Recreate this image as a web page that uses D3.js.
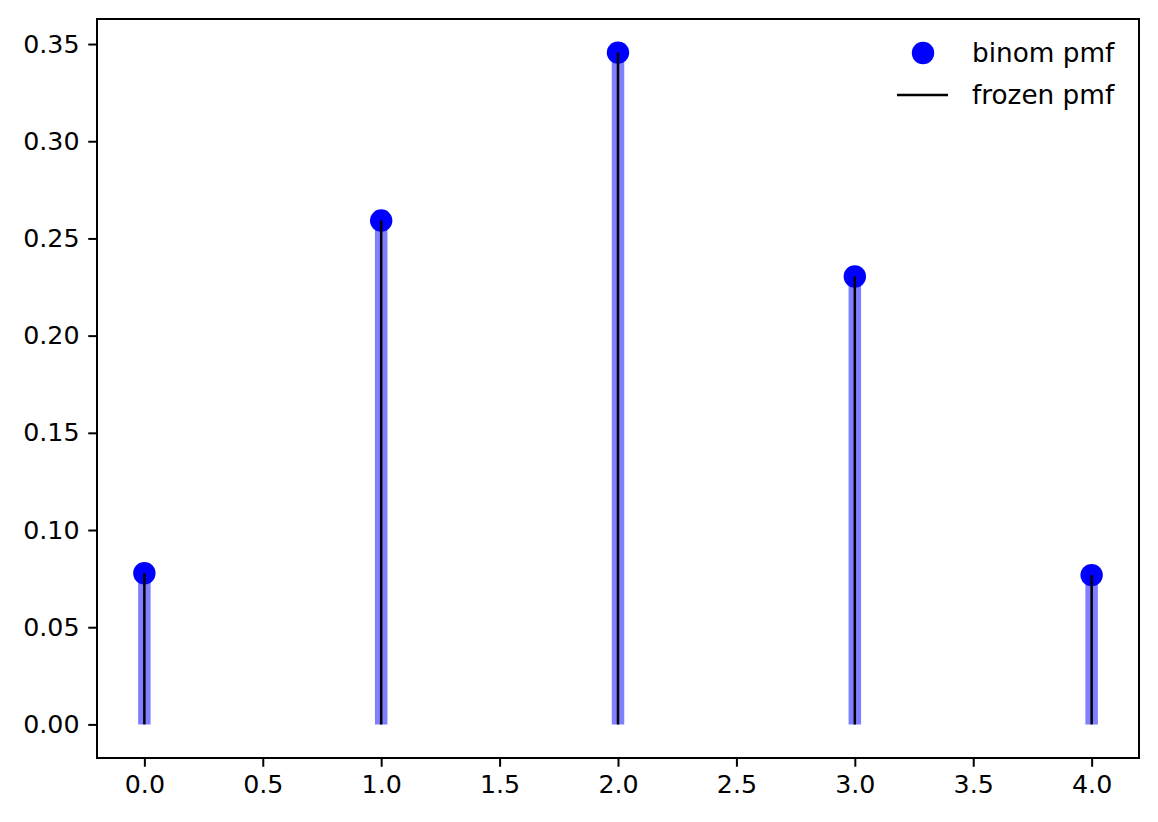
<!DOCTYPE html>
<html><head><meta charset="utf-8">
<script src="https://cdn.jsdelivr.net/npm/d3@7"></script>
<style>html,body{margin:0;padding:0;background:#fff;} svg{display:block;font-family:"DejaVu Sans",sans-serif;}</style>
</head><body>
<svg id="c" width="1158" height="822"></svg>
<script>
const ks = [0, 1, 2, 3, 4];
const pmf = [0.07776, 0.2592, 0.3456, 0.2304, 0.0768];
const xTicks = [0, 0.5, 1, 1.5, 2, 2.5, 3, 3.5, 4];
const yTicks = [0, 0.05, 0.10, 0.15, 0.20, 0.25, 0.30, 0.35];
const legendLabels = ["binom pmf", "frozen pmf"];

const svg = d3.select("#c");
const L = 97, T = 19, R = 1139, B = 758;
const x = d3.scaleLinear().domain([-0.2, 4.2]).range([L, R]);
const y = d3.scaleLinear().domain([-0.01728, 0.36288]).range([B, T]);
const fs = 25.3;

const g = svg.append("g");
g.selectAll("circle.m").data(ks).enter().append("circle")
  .attr("cx", d => x(d)).attr("cy", (d,i) => y(pmf[i])).attr("r", 11.2)
  .attr("fill", "blue");
g.selectAll("line.b").data(ks).enter().append("line")
  .attr("x1", d => x(d)).attr("x2", d => x(d))
  .attr("y1", y(0)).attr("y2", (d,i) => y(pmf[i]))
  .attr("stroke", "blue").attr("stroke-opacity", 0.5).attr("stroke-width", 12.5);
g.selectAll("line.k").data(ks).enter().append("line")
  .attr("x1", d => x(d)).attr("x2", d => x(d))
  .attr("y1", y(0)).attr("y2", (d,i) => y(pmf[i]))
  .attr("stroke", "black").attr("stroke-width", 2.5);

const xAxis = d3.axisBottom(x).tickValues(xTicks).tickFormat(d3.format(".1f")).tickSizeInner(8.75).tickSizeOuter(0).tickPadding(8.75);
const yAxis = d3.axisLeft(y).tickValues(yTicks).tickFormat(d3.format(".2f")).tickSizeInner(8.75).tickSizeOuter(0).tickPadding(8.75);
const gx = svg.append("g").attr("transform", `translate(0,${B})`).call(xAxis);
const gy = svg.append("g").attr("transform", `translate(${L},0)`).call(yAxis);
[gx, gy].forEach(a => {
  a.select(".domain").remove();
  a.selectAll(".tick line").attr("stroke", "black").attr("stroke-width", 2);
  a.selectAll(".tick text").attr("fill", "black").attr("font-size", fs).attr("font-family", "DejaVu Sans");
});
svg.append("rect").attr("x", L).attr("y", T).attr("width", R - L).attr("height", B - T)
  .attr("fill", "none").attr("stroke", "black").attr("stroke-width", 2);

const lg = svg.append("g");
lg.append("circle").attr("cx", 923).attr("cy", 53).attr("r", 11.2).attr("fill", "blue");
lg.append("line").attr("x1", 897).attr("x2", 948).attr("y1", 95).attr("y2", 95).attr("stroke", "black").attr("stroke-width", 2.5);
lg.selectAll("text").data(legendLabels).enter().append("text")
  .attr("x", 972).attr("y", (d,i) => 53 + i*42).attr("dy", "0.36em")
  .attr("font-size", 26.3).attr("fill", "black").text(d => d);
</script>
</body></html>
